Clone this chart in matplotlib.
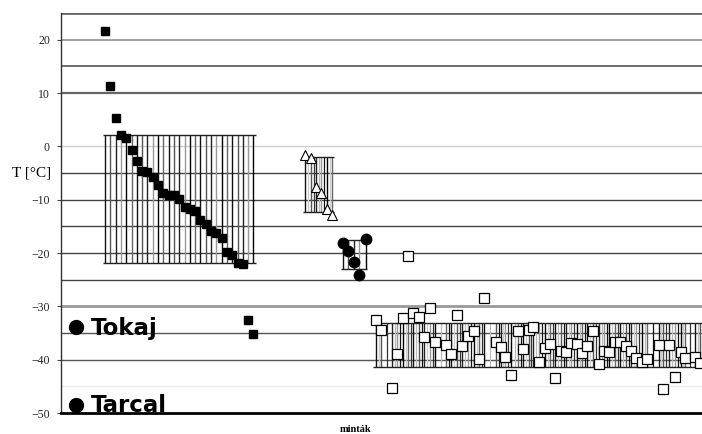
import numpy as np
import matplotlib.pyplot as plt
from matplotlib.lines import Line2D

# filled squares (first group)
sq_x = [0, 1, 2, 3, 4, 5, 6, 7, 8, 9, 10, 11, 12, 13, 14, 15, 16, 17, 18, 19,
        20, 21, 22, 23, 24, 25, 26, 27, 28]
sq_t = [21.6, 11.3, 5.3, 2.1, 1.5, -0.7, -2.8, -4.7, -4.9, -5.8, -7.3, -8.8,
        -9.2, -9.2, -9.9, -11.3, -11.8, -12.2, -13.9, -14.5, -15.8, -16.3,
        -17.1, -19.9, -20.3, -21.9, -22.1, -32.6, -35.1]
sq_err = (-21.9, 2.1)

# open triangles
tri_x = [37.7, 38.9, 39.8, 40.8, 41.9, 42.8]
tri_t = [-1.7, -2.2, -7.6, -8.8, -11.8, -12.9]
tri_err = (-12.3, -2.0)

# filled circles
ci_x = [44.9, 45.8, 47.0, 47.9, 49.2]
ci_t = [-18.2, -19.6, -21.6, -24.2, -17.4]
ci_err = (-23.0, -17.5)

# open squares (last group)
os_x = [51.1, 52.1, 54.2, 55.1, 56.2, 57.2, 58.1, 59.2, 60.2, 61.3, 62.3, 64.3,
        65.3, 66.4, 67.4, 68.5, 69.6, 70.6, 71.5, 73.8, 74.7, 75.5, 76.6, 77.9,
        78.9, 80.0, 80.8, 81.9, 83.0, 84.0, 84.9, 86.0, 87.0, 87.9, 89.1, 90.0,
        90.9, 92.1, 93.2, 94.2, 95.1, 96.2, 97.2, 98.3, 99.2, 100.2, 101.3,
        102.3, 104.5, 105.3, 106.4, 107.5, 108.7, 109.4, 111.3, 112.3]
os_t = [-32.5, -34.5, -45.4, -39.0, -32.1, -20.5, -31.2, -32.0, -35.8, -30.4,
        -36.6, -37.2, -39.0, -31.7, -37.5, -35.6, -34.6, -39.9, -28.4, -36.6,
        -37.7, -39.5, -42.8, -34.6, -38.0, -34.5, -33.9, -40.5, -37.8, -37.0,
        -43.5, -38.3, -38.6, -36.8, -37.1, -38.8, -37.5, -34.7, -40.9, -38.3,
        -38.5, -36.6, -36.6, -37.4, -38.3, -39.6, -40.5, -39.8, -37.3, -45.5,
        -37.2, -43.3, -38.5, -39.6, -39.5, -40.6]
os_err = (-41.3, -33.2)

fig = plt.figure(figsize=(7.02, 4.34), dpi=100)
ax = fig.add_axes([61 / 702, 21 / 434, 641 / 702, 400 / 434])
ax.set_xlim(-8.3, 112.6)
ax.set_ylim(-50, 25)

# horizontal grid lines (as in the scanned figure, uneven greys)
grid = {25: ('#666666', 2.0), 20: ('#9a9a9a', 1.3), 15: ('#555555', 1.2),
        10: ('#666666', 1.6), 0: ('#cfcfcf', 1.0), -5: ('#444444', 1.0),
        -10: ('#444444', 1.0), -15: ('#444444', 1.0), -20: ('#444444', 1.0),
        -25: ('#444444', 1.0), -30: ('#999999', 2.0), -35: ('#555555', 1.0),
        -40: ('#555555', 1.0), -45: ('#eeeeee', 1.0)}
for lev, (c, lw) in grid.items():
    ax.axhline(lev, color=c, lw=lw, zorder=0)

shades = ['#111111', '#555555', '#222222', '#999999', '#000000', '#666666']
light = ['#cccccc', '#333333', '#bbbbbb', '#111111']


def err_lines(xs, lo, hi, half, mid=True):
    xs = list(xs)
    if mid:
        mids = [(a + b) / 2 for a, b in zip(xs[:-1], xs[1:])]
        for i, x in enumerate(mids):
            ax.vlines(x, lo, hi, color=light[i % len(light)], lw=0.9, zorder=1)
    for i, x in enumerate(xs):
        ax.vlines(x, lo, hi, color=shades[i % len(shades)], lw=1.0, zorder=1)
    ax.hlines([lo, hi], xs[0] - half, xs[-1] + half, color='#222222', lw=1.0,
              zorder=1)


err_lines(sq_x, sq_err[0], sq_err[1], 0.4, mid=False)
err_lines(tri_x, tri_err[0], tri_err[1], 0.3)
err_lines(ci_x, ci_err[0], ci_err[1], 0.3, mid=False)
err_lines(os_x, os_err[0], os_err[1], 0.5)

ax.plot(sq_x, sq_t, 's', color='black', ms=5.2, zorder=3)
ax.plot(tri_x, tri_t, '^', mfc='white', mec='black', mew=0.8, ms=7, zorder=3)
ax.plot(ci_x, ci_t, 'o', color='black', ms=7.5, zorder=3)
ax.plot(os_x, os_t, 's', mfc='white', mec='black', mew=0.9, ms=7.5, zorder=3)

for s in ['top', 'right']:
    ax.spines[s].set_visible(False)
ax.spines['left'].set_color('#333333')
ax.spines['left'].set_linewidth(1.0)
ax.spines['bottom'].set_color('black')
ax.spines['bottom'].set_linewidth(2.0)

ax.set_xticks([])
ax.set_yticks([20, 10, 0, -10, -20, -30, -40, -50])
ax.tick_params(axis='y', length=3, width=0.8, color='#444444', pad=5,
               labelsize=8.5, labelcolor='#222222')
for lab in ax.get_yticklabels():
    lab.set_family('Liberation Serif')

fig.text(12 / 702, 1 - 173 / 434, 'T [°C]', family='Liberation Serif',
         fontsize=11, ha='left', va='center')
fig.text(356 / 702, 1 - 430 / 434, 'minták', family='Liberation Serif',
         fontsize=7.5, fontweight='bold', ha='center', va='center')

for name, yb, yc in [('Tokaj', 335, 327), ('Tarcal', 412, 405)]:
    fig.add_artist(Line2D([76 / 702], [1 - yc / 434], marker='o', ms=10,
                          color='black', transform=fig.transFigure))
    fig.text(91 / 702, 1 - yb / 434, name, family='DejaVu Sans',
             fontweight='bold', fontsize=16.5, ha='left', va='baseline')

fig.savefig('out.png', dpi=100)
